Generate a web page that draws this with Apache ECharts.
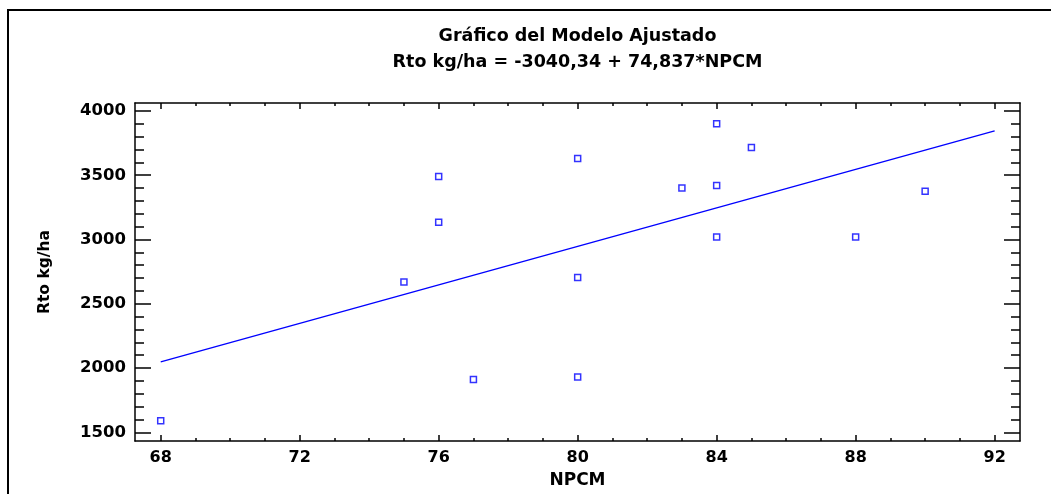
<!DOCTYPE html>
<html>
<head>
<meta charset="utf-8">
<script src="https://cdn.jsdelivr.net/npm/echarts@6/dist/echarts.min.js"></script>
<style>
html,body{margin:0;padding:0;background:#fff;}
#chart{width:1051px;height:494px;}
</style>
</head>
<body>
<div id="chart"></div>
<script>
// ---- data ----
var titleLine1 = 'Gráfico del Modelo Ajustado';
var titleLine2 = 'Rto kg/ha = -3040,34 + 74,837*NPCM';
var xName = 'NPCM';
var yName = 'Rto kg/ha';

var npcm = [68, 75, 76, 76, 77, 80, 80, 80, 83, 84, 84, 84, 85, 88, 90];
var rto  = [1590, 2670, 3490, 3135, 1910, 3630, 2705, 1930, 3400, 3900, 3420, 3020, 3715, 3020, 3375];

var fitX = [68, 92];
var fitY = [2048, 3845];

var xTicks = [68, 72, 76, 80, 84, 88, 92];
var xMinorTicks = [69, 70, 71, 73, 74, 75, 77, 78, 79, 81, 82, 83, 85, 86, 87, 89, 90, 91];
var yTicks = [1500, 2000, 2500, 3000, 3500, 4000];
var yMinorTicks = [1600, 1700, 1800, 1900, 2100, 2200, 2300, 2400, 2600, 2700, 2800, 2900,
                   3100, 3200, 3300, 3400, 3600, 3700, 3800, 3900];
var xRange = [67.26, 92.73];
var yRange = [1432, 4062];

// ---- build ----
var FONT = "'DejaVu Sans', sans-serif";
var BLUE = '#0000ff';
var scatterData = npcm.map(function (v, i) { return [v, rto[i]]; });
var fitData = fitX.map(function (v, i) { return [v, fitY[i]]; });
function plain(v) { return String(v); }

function xAx(pos, values, len, major) {
  return {
    type: 'value', position: pos, min: xRange[0], max: xRange[1],
    name: (major && pos === 'bottom') ? xName : '',
    nameLocation: 'middle', nameGap: 31,
    nameTextStyle: { fontFamily: FONT, fontWeight: 'bold', fontSize: 17, color: '#000' },
    axisLine: { show: major, onZero: false, lineStyle: { color: '#000', width: 1.5 } },
    axisTick: { show: true, inside: true, length: len, customValues: values, lineStyle: { color: '#000', width: 1.5 } },
    axisLabel: { show: major && pos === 'bottom', customValues: values, margin: 9, formatter: plain,
      fontFamily: FONT, fontWeight: 'bold', fontSize: 16, color: '#000' },
    splitLine: { show: false }
  };
}
function yAx(pos, values, len, major) {
  return {
    type: 'value', position: pos, min: yRange[0], max: yRange[1],
    name: (major && pos === 'left') ? yName : '',
    nameLocation: 'middle', nameGap: 82,
    nameTextStyle: { fontFamily: FONT, fontWeight: 'bold', fontSize: 15.5, color: '#000' },
    axisLine: { show: major, onZero: false, lineStyle: { color: '#000', width: 1.5 } },
    axisTick: { show: true, inside: true, length: len, customValues: values, lineStyle: { color: '#000', width: 1.5 } },
    axisLabel: { show: major && pos === 'left', customValues: values, margin: 9, formatter: plain,
      fontFamily: FONT, fontWeight: 'bold', fontSize: 16.5, color: '#000' },
    splitLine: { show: false }
  };
}

var chart = echarts.init(document.getElementById('chart'), null, { renderer: 'canvas' });
chart.setOption({
  animation: false,
  backgroundColor: '#fff',
  title: [
    { text: titleLine1, left: 577.5, top: 27, textAlign: 'center', padding: 0,
      textStyle: { fontFamily: FONT, fontWeight: 'bold', fontSize: 17.5, color: '#000' } },
    { text: titleLine2, left: 577.5, top: 53, textAlign: 'center', padding: 0,
      textStyle: { fontFamily: FONT, fontWeight: 'bold', fontSize: 17.5, color: '#000' } }
  ],
  graphic: [{
    type: 'rect', silent: true, z: 100,
    shape: { x: 8, y: 10, width: 1100, height: 600 },
    style: { fill: 'none', stroke: '#000', lineWidth: 2 }
  }],
  grid: { left: 135, right: 31, top: 103, bottom: 53, containLabel: false },
  xAxis: [
    xAx('bottom', xTicks, 6, true),
    xAx('bottom', xMinorTicks, 3, false),
    xAx('top', xTicks, 6, true),
    xAx('top', xMinorTicks, 3, false)
  ],
  yAxis: [
    yAx('left', yTicks, 16, true),
    yAx('left', yMinorTicks, 9, false),
    yAx('right', yTicks, 16, true),
    yAx('right', yMinorTicks, 9, false)
  ],
  series: [
    { type: 'line', xAxisIndex: 0, yAxisIndex: 0, data: fitData, showSymbol: false,
      lineStyle: { color: BLUE, width: 1.3 }, silent: true },
    { type: 'scatter', xAxisIndex: 0, yAxisIndex: 0, data: scatterData,
      symbol: 'rect', symbolSize: 6,
      itemStyle: { color: 'rgba(0,0,0,0)', borderColor: BLUE, borderWidth: 1.5 } }
  ]
});
</script>
</body>
</html>
